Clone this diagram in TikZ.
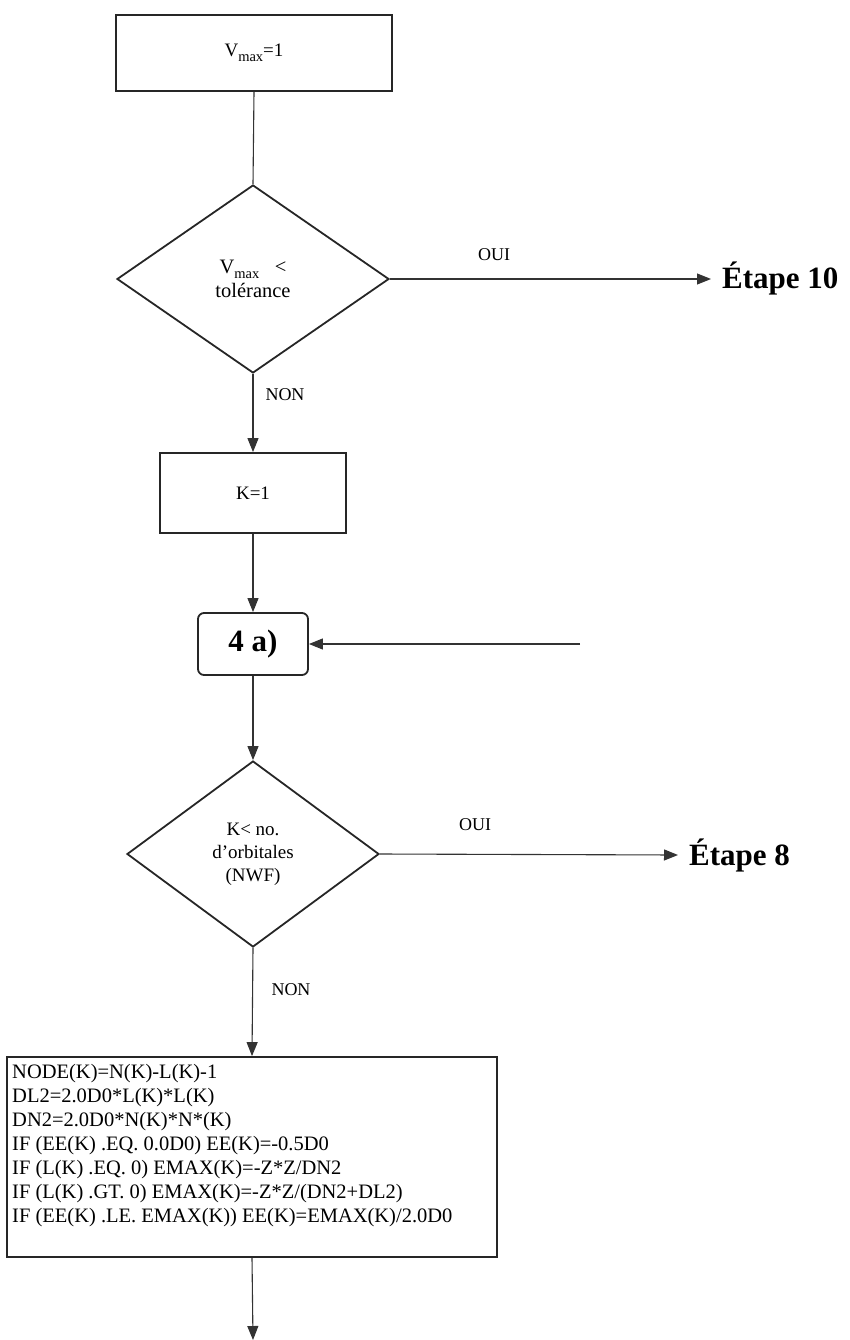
\documentclass[tikz,border=0pt]{standalone}
\usepackage{fontspec}
\setmainfont{Liberation Serif}
\usetikzlibrary{arrows.meta,shapes.geometric}
\begin{document}
\begin{tikzpicture}[x=1pt,y=-1pt,
  box/.style={draw=black!85, line width=1.8pt, inner sep=0pt, font=\fontsize{19}{23}\selectfont, align=center},
  dia/.style={diamond, draw=black!85, line width=1.8pt, inner sep=0pt, font=\fontsize{19}{23}\selectfont, align=center},
  conn/.style={draw=black!80, line width=1.1pt},
  arr/.style={conn, -{Triangle[length=14pt,width=11pt]}},
  lbl/.style={inner sep=0pt, font=\fontsize{18}{20}\selectfont},
  big/.style={inner sep=0pt, anchor=west, font=\fontsize{31}{34}\selectfont\bfseries}
]
\useasboundingbox (0,0) rectangle (849,1340);
\newcommand{\vmx}{V{\fontsize{14.5}{14.5}\selectfont\raisebox{-4.5pt}{max}}}

\node[box, minimum width=276, minimum height=76] (vmax) at (254,53) {\vmx=1};
\node[dia, minimum width=272, minimum height=188, font=\fontsize{20.5}{24}\selectfont] (d1) at (253,279) {\vmx\ \ \ <\\tolérance};
\node[big] (e10) at (722,279) {Étape 10};
\node[box, minimum width=186, minimum height=80] (k1) at (253,493) {K=1};
\node[box, rounded corners=6pt, minimum width=110, minimum height=62, font=\fontsize{31}{34}\selectfont\bfseries] (a4) at (253,644) {4 a)};
\coordinate (ret) at (580,644);
\node[dia, minimum width=252, minimum height=186] (d2) at (253,854) {K< no.\\d'orbitales\\(NWF)};
\node[big] (e8) at (689,855) {Étape 8};
\node[box, minimum width=490, minimum height=200] (code) at (252,1157) {};
\node[inner sep=0pt, anchor=north west, align=left, font=\fontsize{20.5}{24}\selectfont] (codetext) at (12,1064) {NODE(K)=N(K)-L(K)-1\\
DL2=2.0D0*L(K)*L(K)\\
DN2=2.0D0*N(K)*N*(K)\\
IF (EE(K) .EQ. 0.0D0) EE(K)=-0.5D0\\
IF (L(K) .EQ. 0) EMAX(K)=-Z*Z/DN2\\
IF (L(K) .GT. 0) EMAX(K)=-Z*Z/(DN2+DL2)\\
IF (EE(K) .LE. EMAX(K)) EE(K)=EMAX(K)/2.0D0};
\coordinate (out) at (253,1340);

\node[lbl] (oui1) at (494,255) {OUI};
\node[lbl] (non1) at (285,395) {NON};
\node[lbl] (oui2) at (475,825) {OUI};
\node[lbl] (non2) at (291,990) {NON};

\draw[conn] (vmax.south) -- (d1.north);
\draw[arr] (d1.south) -- (k1.north);
\draw[arr] (d1.east) -- ([xshift=-11pt]e10.west);
\draw[arr] (k1.south) -- (a4.north);
\draw[arr] (ret) -- (a4.east);
\draw[arr] (a4.south) -- (d2.north);
\draw[arr] (d2.east) -- ([xshift=-11pt]e8.west);
\draw[arr] (d2.south) -- (code.north);
\draw[arr] (code.south) -- (out);
\end{tikzpicture}
\end{document}
